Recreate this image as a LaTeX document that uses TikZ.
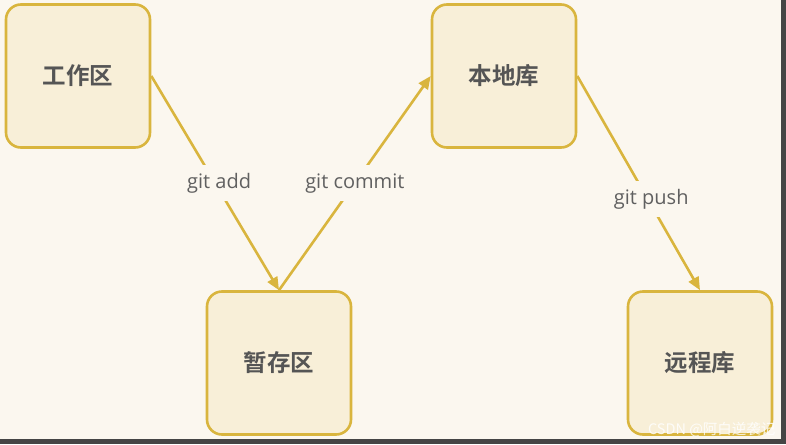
\documentclass[tikz,border=0pt]{standalone}
\usepackage{fontspec}
\setmainfont{Noto Sans CJK SC}
\newfontfamily\cjkb{Noto Sans CJK SC Bold}
\newfontfamily\labfont{Open Sans}
\usetikzlibrary{arrows.meta}
\definecolor{bgc}{HTML}{FBF7EF}
\definecolor{boxfill}{HTML}{F8EFD8}
\definecolor{boxline}{HTML}{D9B53E}
\definecolor{titlec}{HTML}{555555}
\definecolor{labc}{HTML}{606060}
\definecolor{edgec}{HTML}{454545}
\tikzset{
  stagebox/.style={draw=boxline, fill=boxfill, line width=2.6pt, rounded corners=15pt,
    minimum width=144pt, minimum height=143pt, inner sep=0pt,
    font=\cjkb\fontsize{23.5}{26}\selectfont, text=titlec},
  flow/.style={draw=boxline, line width=2.6pt, -{Triangle[length=13pt,width=11pt]}},
  flowlab/.style={fill=bgc, inner xsep=2pt, inner ysep=8pt, font=\labfont\fontsize{20}{22}\selectfont, text=labc}
}
\begin{document}
\begin{tikzpicture}[x=1pt,y=-1pt]
\useasboundingbox (0,0) rectangle (786,444);
\fill[bgc] (0,0) rectangle (786,444);
\fill[edgec] (781,0) rectangle (786,444);
\fill[edgec] (0,439) rectangle (786,444);
\node[stagebox] (work) at (78,76) {工作区};
\node[stagebox] (local) at (504,76) {本地库};
\node[stagebox] (stage) at (279,363) {暂存区};
\node[stagebox] (remote) at (700,363) {远程库};
\draw[flow] (work.east) -- node[flowlab, pos=0.5, xshift=4pt] (la) {git add} (stage.north);
\draw[flow] (stage.north) -- node[flowlab, pos=0.5] (lc) {git commit} (local.west);
\draw[flow] (local.east) -- node[flowlab, pos=0.57, xshift=4pt, yshift=-1pt] (lp) {git push} (remote.north);
\node[font=\fontsize{14.5}{16}\selectfont, text=white, opacity=0.85, anchor=east] (wm) at (779,430) {CSDN @阿白逆袭记};
\end{tikzpicture}
\end{document}
